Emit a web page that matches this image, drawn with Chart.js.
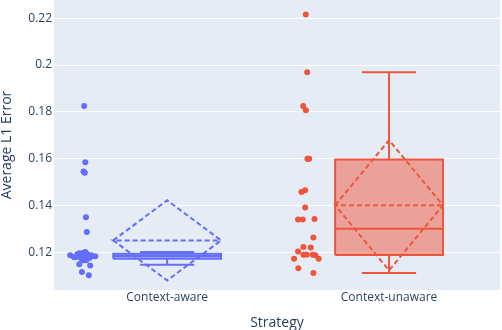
<!DOCTYPE html>
<html>
<head>
<meta charset="utf-8">
<script src="https://cdn.jsdelivr.net/npm/chart.js@4"></script>
<style>
    html, body { margin: 0; padding: 0; background: #fff; }
    #wrap { width: 502px; height: 330px; }
</style>
</head>
<body>
<div id="wrap"><canvas id="boxChart" width="502" height="330"></canvas></div>
<script>
const CATEGORIES = ["Context-aware", "Context-unaware"];
const Y_TICKS = [0.12, 0.14, 0.16, 0.18, 0.2, 0.22];

// raw points per strategy, with the horizontal jitter
const AWARE_VALUES = [0.1825, 0.1585, 0.1545, 0.1540, 0.1350, 0.1287, 0.1201, 0.1197, 0.1196, 0.1192,
    0.1192, 0.1187, 0.1187, 0.1185, 0.1183, 0.1183, 0.1183, 0.1180, 0.1179, 0.1176,
    0.1174, 0.1174, 0.1166, 0.1166, 0.1149, 0.1144, 0.1116, 0.1102];
const AWARE_JITTER = [-0.374, -0.369, -0.377, -0.371, -0.366, -0.362, -0.369, -0.380, -0.396, -0.405,
    -0.360, -0.437, -0.342, -0.392, -0.324, -0.378, -0.338, -0.410, -0.419, -0.351,
    -0.387, -0.369, -0.365, -0.378, -0.396, -0.347, -0.384, -0.353];

const UNAWARE_VALUES = [0.2216, 0.1969, 0.1825, 0.1807, 0.1600, 0.1600, 0.1600, 0.1465, 0.1458, 0.1391,
    0.1342, 0.1340, 0.1340, 0.1263, 0.1223, 0.1221, 0.1204, 0.1190, 0.1190, 0.1190,
    0.1188, 0.1173, 0.1172, 0.1132, 0.1112];
const UNAWARE_JITTER = [-0.375, -0.369, -0.387, -0.375, -0.368, -0.360, -0.365, -0.378, -0.395, -0.378,
    -0.336, -0.410, -0.389, -0.341, -0.386, -0.353, -0.410, -0.386, -0.371, -0.344,
    -0.332, -0.428, -0.317, -0.409, -0.341];

// box statistics per strategy (as drawn)
const LOWER = [0.1147, 0.1112];
const Q1 = [0.1173, 0.1189];
const MEDIAN = [0.1184, 0.1301];
const Q3 = [0.1194, 0.1597];
const UPPER = [0.1201, 0.1969];
const MEAN = [0.1251, 0.1401];
const SD = [0.0171, 0.0278];

const COLORS = ["#636efa", "#EF553B"];
const FILLS = ["rgba(99,110,250,0.5)", "rgba(239,85,59,0.5)"];
const BOX_HALF = 0.243;
const CAP_HALF = 0.122;
const FONT = "'Open Sans', sans-serif";
const TEXT_COLOR = "#2a3f5f";

function pointsDataset(values, jitter, i) {
    return {
        data: values.map((v, k) => ({ x: i + jitter[k], y: v })),
        showLine: false,
        pointRadius: 3,
        pointBorderWidth: 0,
        pointBackgroundColor: COLORS[i],
        order: 1
    };
}

function boxDatasets(i) {
    const c = i;
    const w = BOX_HALF;
    const cw = CAP_HALF;
    const gap = { x: c, y: null };
    return [
        {   // box
            data: [
                { x: c - w, y: Q1[i] }, { x: c + w, y: Q1[i] },
                { x: c + w, y: Q3[i] }, { x: c - w, y: Q3[i] }, { x: c - w, y: Q1[i] }
            ],
            borderColor: COLORS[i], borderWidth: 2, backgroundColor: FILLS[i],
            fill: "shape", pointRadius: 0, order: 5
        },
        {   // median + whiskers
            data: [
                { x: c - w, y: MEDIAN[i] }, { x: c + w, y: MEDIAN[i] }, gap,
                { x: c, y: Q3[i] }, { x: c, y: UPPER[i] }, gap,
                { x: c - cw, y: UPPER[i] }, { x: c + cw, y: UPPER[i] }, gap,
                { x: c, y: Q1[i] }, { x: c, y: LOWER[i] }, gap,
                { x: c - cw, y: LOWER[i] }, { x: c + cw, y: LOWER[i] }
            ],
            borderColor: COLORS[i], borderWidth: 2, pointRadius: 0,
            spanGaps: false, fill: false, order: 4
        },
        {   // mean line and sd diamond
            data: [
                { x: c - w, y: MEAN[i] }, { x: c, y: MEAN[i] + SD[i] },
                { x: c + w, y: MEAN[i] }, { x: c, y: MEAN[i] - SD[i] },
                { x: c - w, y: MEAN[i] }, { x: c + w, y: MEAN[i] }
            ],
            borderColor: COLORS[i], borderWidth: 2, borderDash: [5, 3],
            pointRadius: 0, fill: false, order: 3
        }
    ];
}

const plotBackground = {
    id: "plotBackground",
    beforeDraw(chart) {
        const a = chart.chartArea;
        const ctx = chart.ctx;
        ctx.save();
        ctx.fillStyle = "#E5ECF6";
        ctx.fillRect(a.left, a.top, a.right - a.left, a.bottom - a.top);
        ctx.restore();
    }
};

new Chart(document.getElementById("boxChart"), {
    type: "line",
    data: {
        datasets: [
            ...boxDatasets(0),
            pointsDataset(AWARE_VALUES, AWARE_JITTER, 0),
            ...boxDatasets(1),
            pointsDataset(UNAWARE_VALUES, UNAWARE_JITTER, 1)
        ]
    },
    options: {
        responsive: false,
        animation: false,
        elements: { line: { tension: 0 } },
        layout: { autoPadding: false, padding: { top: 0, right: 2, left: 0, bottom: 0 } },
        plugins: {
            legend: { display: false },
            tooltip: { enabled: false }
        },
        scales: {
            x: {
                type: "linear",
                min: -0.51,
                max: 1.5,
                afterBuildTicks: s => { s.ticks = CATEGORIES.map((_, i) => ({ value: i })); },
                afterFit: s => { s.height = 40; s.paddingLeft = 0; s.paddingRight = 0; },
                grid: { display: false, drawTicks: false },
                border: { display: false },
                ticks: {
                    padding: 0,
                    autoSkip: false,
                    maxRotation: 0,
                    color: TEXT_COLOR,
                    font: { family: FONT, size: 12 },
                    callback: v => CATEGORIES[v]
                },
                title: {
                    display: true,
                    text: "Strategy",
                    color: TEXT_COLOR,
                    padding: 0,
                    font: { family: FONT, size: 14, lineHeight: 1 }
                }
            },
            y: {
                min: 0.1039,
                max: 0.2278,
                afterBuildTicks: s => { s.ticks = Y_TICKS.map(v => ({ value: v })); },
                afterFit: s => { s.width = 54; s.paddingTop = 0; s.paddingBottom = 0; },
                grid: { color: "#ffffff", lineWidth: 1, drawTicks: false },
                border: { display: false },
                ticks: {
                    padding: 2,
                    color: TEXT_COLOR,
                    font: { family: FONT, size: 12 },
                    callback: v => String(v)
                },
                title: {
                    display: true,
                    text: "Average L1 Error",
                    color: TEXT_COLOR,
                    padding: 0,
                    font: { family: FONT, size: 14, lineHeight: 1 }
                }
            }
        }
    },
    plugins: [plotBackground]
});
</script>
</body>
</html>
